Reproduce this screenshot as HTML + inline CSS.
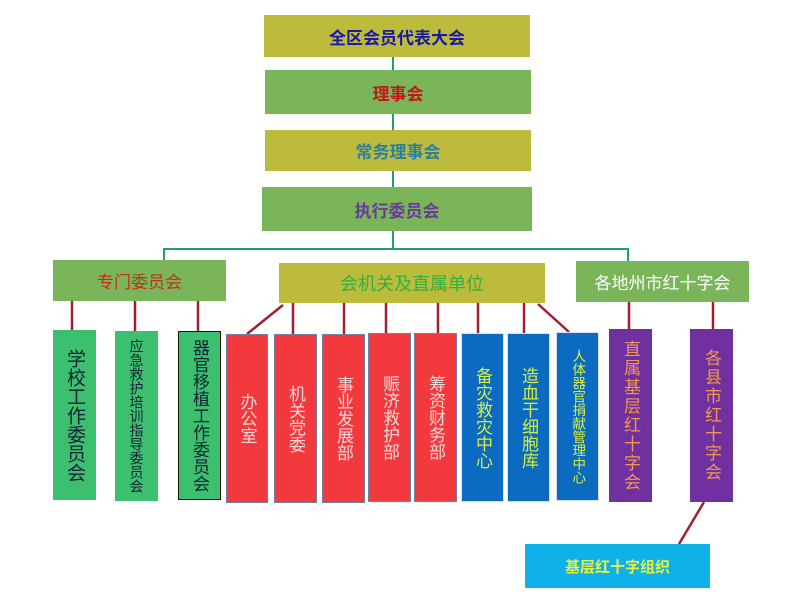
<!DOCTYPE html>
<html><head><meta charset="utf-8"><style>
body{margin:0;width:800px;height:603px;background:#fff;position:relative;overflow:hidden;font-family:"Liberation Sans","Noto Sans CJK SC",sans-serif}
.b{position:absolute;display:flex;align-items:center;justify-content:center;box-sizing:border-box}
.v{position:absolute;box-sizing:border-box;display:flex;justify-content:center;align-items:center;writing-mode:vertical-rl;text-orientation:upright;font-size:17px;line-height:1}
.g{background:#3dbf70;color:#123}
.r{background:#f23a3e;color:#f8d8d8;border:1px solid #7080a0}
.bl{background:#0a6bc0;color:#d8f040;border:1px solid #dde}
.p{background:#7030a0;color:#f09850;letter-spacing:2px}
</style></head><body>
<svg width="800" height="603" style="position:absolute;left:0;top:0">
<g stroke="#20a070" stroke-width="2" fill="none">
<line x1="393" y1="57" x2="393" y2="249"/>
<polyline points="164,260 164,249 628,249 628,261"/>
</g>
<g stroke="#a02030" stroke-width="2.5">
<line x1="72" y1="301" x2="72" y2="330"/>
<line x1="135" y1="301" x2="135" y2="331"/>
<line x1="198" y1="301" x2="198" y2="331"/>
<line x1="283" y1="305" x2="247" y2="334"/>
<line x1="293" y1="303" x2="293" y2="334"/>
<line x1="344" y1="303" x2="344" y2="334"/>
<line x1="386" y1="303" x2="386" y2="334"/>
<line x1="438" y1="303" x2="438" y2="334"/>
<line x1="478" y1="303" x2="478" y2="334"/>
<line x1="524" y1="303" x2="524" y2="334"/>
<line x1="538" y1="304" x2="569" y2="332"/>
<line x1="629" y1="302" x2="629" y2="329"/>
<line x1="713" y1="302" x2="713" y2="329"/>
<line x1="704" y1="502" x2="679" y2="544"/>
</g>
</svg>
<div class="b" style="left:264px;top:15px;width:266px;height:42px;background:#bdbb3c;color:#1a1aa0;font-weight:bold;font-size:17px">全区会员代表大会</div>
<div class="b" style="left:265px;top:70px;width:266px;height:44px;background:#7ab55a;color:#c01818;font-weight:bold;font-size:17px">理事会</div>
<div class="b" style="left:265px;top:130px;width:266px;height:41px;background:#bdbb3c;color:#2a80a0;font-weight:bold;font-size:17px">常务理事会</div>
<div class="b" style="left:262px;top:187px;width:270px;height:44px;background:#7ab55a;color:#6a3a9a;font-weight:bold;font-size:17px">执行委员会</div>
<div class="b" style="left:53px;top:260px;width:173px;height:41px;background:#7ab55a;color:#c03020;font-size:17px">专门委员会</div>
<div class="b" style="left:279px;top:263px;width:266px;height:40px;background:#bdbb3c;color:#30b040;font-size:18px">会机关及直属单位</div>
<div class="b" style="left:576px;top:261px;width:173px;height:41px;background:#7ab55a;color:#fff;font-size:17px">各地州市红十字会</div>
<div class="v g" style="left:53px;top:330px;width:43px;height:170px;font-size:19px">学校工作委员会</div>
<div class="v g" style="left:115px;top:331px;width:43px;height:170px;font-size:14px">应急救护培训指导委员会</div>
<div class="v g" style="left:178px;top:331px;width:43px;height:169px;border:1.5px solid #111">器官移植工作委员会</div>
<div class="v r" style="left:226px;top:334px;width:42px;height:169px">办公室</div>
<div class="v r" style="left:274px;top:334px;width:43px;height:169px">机关党委</div>
<div class="v r" style="left:322px;top:334px;width:43px;height:169px">事业发展部</div>
<div class="v r" style="left:368px;top:333px;width:43px;height:169px">赈济救护部</div>
<div class="v r" style="left:414px;top:333px;width:43px;height:169px">筹资财务部</div>
<div class="v bl" style="left:461px;top:333px;width:43px;height:169px">备灾救灾中心</div>
<div class="v bl" style="left:507px;top:333px;width:43px;height:169px">造血干细胞库</div>
<div class="v bl" style="left:556px;top:332px;width:43px;height:169px;font-size:13.5px">人体器官捐献管理中心</div>
<div class="v p" style="left:609px;top:329px;width:43px;height:173px">直属基层红十字会</div>
<div class="v p" style="left:690px;top:329px;width:43px;height:173px">各县市红十字会</div>
<div class="b" style="left:525px;top:544px;width:185px;height:44px;background:#10b0e8;color:#e8f040;font-weight:bold;font-size:15px">基层红十字组织</div>
</body></html>
